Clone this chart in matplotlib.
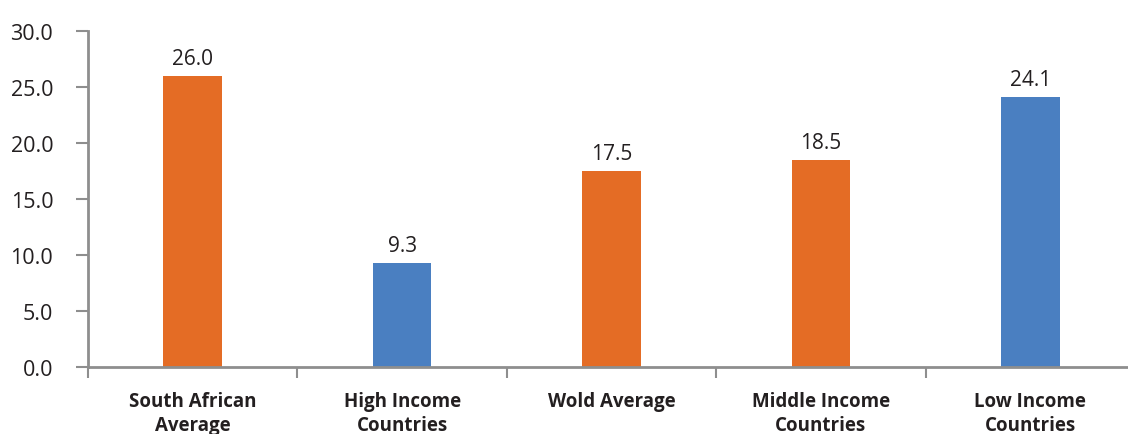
import matplotlib.pyplot as plt
import numpy as np

plt.rcParams['font.family'] = ['Open Sans', 'DejaVu Sans']

categories = ["South African\nAverage", "High Income\nCountries", "Wold Average",
              "Middle Income\nCountries", "Low Income\nCountries"]
values = [26.0, 9.3, 17.5, 18.5, 24.1]
bar_colors = ["#E46C25", "#4A7FC1", "#E46C25", "#E46C25", "#4A7FC1"]
y_ticks = [0, 5, 10, 15, 20, 25, 30]

axis_grey = "#8E8E8E"
text_col = "#231F20"

fig = plt.figure(figsize=(11.28, 4.35), dpi=100)
ax = fig.add_axes([88 / 1128, 67 / 435, 1047 / 1128, 336 / 435])

x = np.arange(len(categories))
bars = ax.bar(x, values, width=0.28, color=bar_colors)
ax.bar_label(bars, labels=[f"{v:.1f}" for v in values], padding=5,
             fontsize=15, color=text_col)

ax.set_xlim(-0.5, len(categories) - 0.5)
ax.set_ylim(0, 30)

# y axis
ax.set_yticks(y_ticks)
ax.set_yticklabels([f"{t:.1f}" for t in y_ticks], fontsize=15.5, color=text_col)
ax.tick_params(axis='y', length=9, width=1.5, color=axis_grey, pad=16)

# x axis: tick marks between categories, labels centred under bars
ax.set_xticks(np.arange(-0.5, len(categories), 1.0))
ax.set_xticklabels([])
ax.tick_params(axis='x', which='major', direction='out', length=8, width=1.5,
               color=axis_grey)
ax.set_xticks(x, minor=True)
ax.set_xticklabels(categories, minor=True, fontsize=13.5, fontweight='bold',
                   color=text_col, linespacing=1.3)
ax.tick_params(axis='x', which='minor', length=0, pad=17)

for side in ['top', 'right']:
    ax.spines[side].set_visible(False)
for side in ['left', 'bottom']:
    ax.spines[side].set_color(axis_grey)
    ax.spines[side].set_linewidth(2)

fig.savefig("out.png", dpi=100)
